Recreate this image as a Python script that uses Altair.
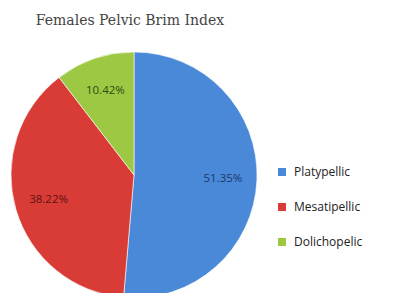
import altair as alt
import pandas as pd

categories = ["Platypellic", "Mesatipellic", "Dolichopelic"]
values = [51.35, 38.22, 10.42]
labels = ["51.35%", "38.22%", "10.42%"]
colors = ["#4A88D8", "#D93B36", "#9DC843"]
label_colors = ["#1B3A6B", "#5A1414", "#2E4A12"]
title_text = "Females Pelvic Brim Index"

df = pd.DataFrame({
    "category": categories,
    "value": values,
    "label": labels,
    "order": list(range(len(categories))),
    "lcolor": label_colors,
})

cx, cy = 126, 167

base = alt.Chart(df).encode(
    theta=alt.Theta("value:Q", stack=True),
    order=alt.Order("order:Q"),
)

pie = base.mark_arc(outerRadius=123, stroke="#ffffff", strokeWidth=0.6).encode(
    x=alt.value(cx),
    y=alt.value(cy),
    color=alt.Color(
        "category:N",
        scale=alt.Scale(domain=categories, range=colors),
        sort=categories,
        legend=alt.Legend(
            title=None,
            orient="none",
            legendX=268,
            legendY=158,
            symbolType="square",
            symbolSize=64,
            symbolStrokeWidth=0,
            labelFont="Open Sans",
            labelFontSize=12,
            labelColor="#222222",
            rowPadding=23,
            labelOffset=6,
        ),
    ),
)

text = base.mark_text(radius=89, font="Open Sans", fontSize=11.5).encode(
    x=alt.value(cx),
    y=alt.value(cy),
    text="label:N",
    color=alt.Color("lcolor:N", scale=None, legend=None),
)

title = alt.Chart(pd.DataFrame({"t": [title_text]})).mark_text(
    font="DejaVu Serif", fontSize=14, color="#444444"
).encode(
    x=alt.value(122),
    y=alt.value(13),
    text="t:N",
)

chart = alt.layer(pie, text, title).properties(
    width=388,
    height=285,
    padding=0,
    autosize=alt.AutoSizeParams(type="none"),
).configure(background="#ffffff").configure_view(strokeWidth=0)

chart.save("out.html", embed_options={"renderer": "svg", "actions": False})
